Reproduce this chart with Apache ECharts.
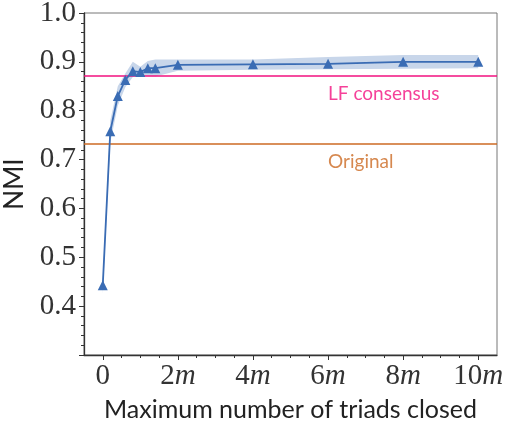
<!DOCTYPE html>
<html><head><meta charset="utf-8">
<script src="https://cdn.jsdelivr.net/npm/echarts@6/dist/echarts.min.js"></script>
<style>html,body{margin:0;padding:0;background:#fff}#c{width:507px;height:422px}</style>
</head><body><div id="c"></div>
<script>
const xVals   = [0, 0.2, 0.4, 0.6, 0.8, 1.0, 1.2, 1.4, 2, 4, 6, 8, 10];
const nmiMean = [0.443, 0.758, 0.830, 0.863, 0.881, 0.879, 0.887, 0.887, 0.894, 0.895, 0.896, 0.900, 0.900];
const nmiLow  = [0.425, 0.735, 0.810, 0.848, 0.869, 0.873, 0.871, 0.870, 0.882, 0.884, 0.885, 0.886, 0.887];
const nmiHigh = [0.455, 0.780, 0.850, 0.876, 0.900, 0.890, 0.902, 0.905, 0.905, 0.905, 0.910, 0.914, 0.914];
const refNames  = ['LF consensus', 'Original'];
const refValues = [0.871, 0.732];
const refLabelPos = [[6, 0.834], [6, 0.695]];
const xTickLabels = [0, 2, 4, 6, 8, 10];
const xMinorTicks = [0.5, 1, 1.5, 2.5, 3, 3.5, 4.5, 5, 5.5, 6.5, 7, 7.5, 8.5, 9, 9.5];

const BLUE = '#3a6cb4', BAND = '#c8d6ea', PINK = '#f2117f', ORANGE = '#cc6a23';
const refColors = [PINK, ORANGE];
const serif = 'Liberation Serif';
const sans = 'Lato';

const chart = echarts.init(document.getElementById('c'), null, {renderer: 'canvas'});
const grid = {left: 84, top: 13, right: 10, bottom: 67, show: true, borderColor: '#777', borderWidth: 1,
  containLabel: false, outerBoundsMode: 'none'};

const series = [
  {type: 'custom', silent: true, z: 1,
   data: xVals.map((x, i) => [x, nmiLow[i], nmiHigh[i]]),
   encode: {x: 0, y: [1, 2]},
   renderItem: function (params, api) {
     if (params.dataIndex !== 0) return null;
     const upper = xVals.map((x, i) => api.coord([x, nmiHigh[i]]));
     const lower = xVals.map((x, i) => api.coord([x, nmiLow[i]])).reverse();
     return {type: 'polygon', shape: {points: upper.concat(lower)},
       style: {fill: BAND}};
   }},
  {type: 'line', data: xVals.map((x, i) => [x, nmiMean[i]]), symbol: 'triangle', symbolSize: 10,
   itemStyle: {color: BLUE}, lineStyle: {color: BLUE, width: 1.8}, z: 5},
];
refValues.forEach((v, i) => {
  series.push({type: 'line', data: [[-0.5, v], [10.5, v]], symbol: 'none',
    lineStyle: {color: refColors[i], width: 1.6}, z: 3});
  series.push({type: 'scatter', data: [refLabelPos[i]], symbolSize: 0, z: 4,
    label: {show: true, position: 'inside', align: 'left', formatter: refNames[i],
      color: refColors[i], fontFamily: sans, fontSize: 19}});
});

chart.setOption({
  animation: false,
  grid: grid,
  xAxis: [{
    type: 'value', min: -0.5, max: 10.5, gridIndex: 0,
    axisLine: {show: true, onZero: false, lineStyle: {color: '#333', width: 1.3}},
    axisTick: {show: true, customValues: xTickLabels, length: 5, lineStyle: {color: '#333', width: 1}},
    axisLabel: {customValues: xTickLabels, margin: 7, color: '#333',
      formatter: v => v === 0 ? '{n|0}' : '{n|' + v + '}{i|m}',
      rich: {n: {fontFamily: serif, fontSize: 29, color: '#333'},
             i: {fontFamily: serif, fontSize: 29, fontStyle: 'italic', color: '#333'}}},
    splitLine: {show: false},
    name: 'Maximum number of triads closed', nameLocation: 'middle', nameGap: 42,
    nameTextStyle: {fontFamily: sans, fontSize: 25, color: '#222'}
  }, {
    type: 'value', min: -0.5, max: 10.5, gridIndex: 0, position: 'bottom',
    axisLine: {show: false, onZero: false},
    axisTick: {show: true, customValues: xMinorTicks, length: 3, lineStyle: {color: '#333', width: 1}},
    axisLabel: {show: false}, splitLine: {show: false}
  }],
  yAxis: [{
    type: 'value', min: 0.3, max: 1.0, interval: 0.1,
    axisLine: {show: true, onZero: false, lineStyle: {color: '#333', width: 1.3}},
    axisTick: {show: true, length: 5, lineStyle: {color: '#333', width: 1}},
    minorTick: {show: true, splitNumber: 5, length: 3, lineStyle: {color: '#333', width: 1}},
    axisLabel: {margin: 8, fontFamily: serif, fontSize: 29, color: '#333',
      formatter: v => (Math.abs(v - 0.3) < 1e-6) ? '' : v.toFixed(1)},
    splitLine: {show: false},
    name: 'NMI', nameLocation: 'middle', nameGap: 56, nameRotate: 90,
    nameTextStyle: {fontFamily: sans, fontSize: 26, color: '#222'}
  }],
  series: series
});
</script></body></html>
